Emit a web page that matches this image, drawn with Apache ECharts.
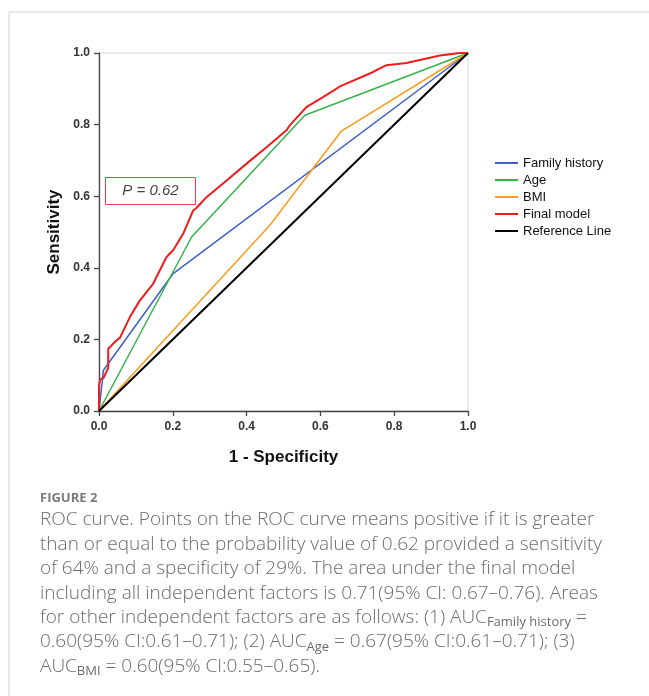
<!DOCTYPE html>
<html>
<head>
<meta charset="utf-8">
<script src="https://cdn.jsdelivr.net/npm/echarts@6/dist/echarts.min.js"></script>
<style>
html,body{margin:0;padding:0;background:#fff;}
#chart{width:649px;height:696px;}
</style>
</head>
<body>
<div id="chart"></div>
<script>
// ---- data ----
const seriesNames = ['Family history', 'Age', 'BMI', 'Final model', 'Reference Line'];
const familyHistory = [[0,0],[0.012,0.114],[0.201,0.384],[1,1]];
const age = [[0,0],[0.251,0.486],[0.558,0.826],[1,1]];
const bmi = [[0,0],[0.463,0.519],[0.657,0.782],[1,1]];
const finalModel = [[0,0],[0,0.07],[0.003,0.088],[0.012,0.092],[0.025,0.12],[0.025,0.174],[0.045,0.195],
  [0.057,0.205],[0.084,0.263],[0.111,0.309],[0.147,0.356],[0.183,0.43],[0.192,0.44],[0.201,0.449],
  [0.228,0.495],[0.255,0.56],[0.264,0.567],[0.292,0.598],[0.346,0.644],[0.4,0.691],[0.454,0.737],
  [0.508,0.784],[0.517,0.798],[0.562,0.849],[0.607,0.877],[0.643,0.9],[0.653,0.907],[0.743,0.947],
  [0.779,0.966],[0.833,0.972],[0.924,0.993],[0.978,1.0],[1,1]];
const referenceLine = [[0,0],[1,1]];
const tickValues = [0, 0.2, 0.4, 0.6, 0.8, 1.0];
const cutoffLabel = 'P = 0.62';
const figureLabel = 'FIGURE 2';
const captionLines = [
  'ROC curve. Points on the ROC curve means positive if it is greater',
  'than or equal to the probability value of 0.62 provided a sensitivity',
  'of 64% and a specificity of 29%. The area under the final model',
  'including all independent factors is 0.71(95% CI: 0.67\u20130.76). Areas',
  'for other independent factors are as follows: (1) AUC{sub|Family history} =',
  '0.60(95% CI:0.61\u20130.71); (2) AUC{sub|Age} = 0.67(95% CI:0.61\u20130.71); (3)',
  'AUC{sub|BMI} = 0.60(95% CI:0.55\u20130.65).'
];

// ---- styles ----
const colors = ['#3f5fc8', '#35b34a', '#ff9a1a', '#ee1c1c', '#000000'];
const widths = [1.5, 1.5, 1.5, 2, 2];
const datasets = [familyHistory, age, bmi, finalModel, referenceLine];

const chart = echarts.init(document.getElementById('chart'));
const captionTop = 520, captionStep = 24.4;
const graphics = [
  {type:'line', shape:{x1:9, y1:12, x2:9, y2:696}, style:{stroke:'#cfcfcf', lineWidth:1}, silent:true},
  {type:'line', shape:{x1:9, y1:12, x2:649, y2:12}, style:{stroke:'#cfcfcf', lineWidth:1}, silent:true},
  {type:'rect', shape:{x:105.5, y:177.5, width:90, height:27}, style:{fill:'#fff', stroke:'#e8424a', lineWidth:1}, z:100},
  {type:'text', x:150.5, y:191, z:101, style:{text:cutoffLabel, fontSize:15, fontStyle:'italic', fontFamily:'Liberation Sans, Arial', fill:'#444', align:'center', verticalAlign:'middle'}},
  {type:'text', x:40, y:498, style:{text:figureLabel, fontSize:13, fontWeight:'bold', fontFamily:'Open Sans', fill:'#7a7a7a', align:'left', verticalAlign:'middle'}}
];
captionLines.forEach((t, i) => {
  graphics.push({type:'text', x:40, y:captionTop + i*captionStep, style:{
    text:t, fontSize:19, fontFamily:'Open Sans', fontWeight:300, fill:'#6b6b6b', align:'left', verticalAlign:'middle',
    rich:{sub:{fontSize:13, fontFamily:'Open Sans', fill:'#6b6b6b', padding:[10,0,0,0]}}
  }});
});

chart.setOption({
  animation:false,
  backgroundColor:'#fff',
  grid:{left:99, right:181, top:53, bottom:285, show:true, borderColor:'#d6d6d6', borderWidth:1},
  legend:{
    orient:'vertical', left:490, top:151, itemWidth:23, itemHeight:2, itemGap:3, icon:'rect',
    data:seriesNames,
    textStyle:{fontSize:13, fontFamily:'Liberation Sans, Arial', color:'#111', lineHeight:14, padding:[0,0,0,0]}
  },
  xAxis:{
    type:'value', min:0, max:1, interval:0.2,
    name:'1 - Specificity', nameLocation:'middle', nameGap:38,
    nameTextStyle:{fontSize:17, fontWeight:'bold', fontFamily:'Liberation Sans, Arial', color:'#111'},
    axisLine:{show:true, lineStyle:{color:'#444', width:1.3}},
    axisTick:{show:true, length:5, lineStyle:{color:'#444', width:1.3}},
    axisLabel:{fontSize:12, fontWeight:'bold', fontFamily:'Liberation Sans, Arial', color:'#333', margin:10,
      formatter:v => v.toFixed(1)},
    splitLine:{show:false}
  },
  yAxis:{
    type:'value', min:0, max:1, interval:0.2,
    name:'Sensitivity', nameLocation:'middle', nameGap:25,
    nameTextStyle:{fontSize:17, fontWeight:'bold', fontFamily:'Liberation Sans, Arial', color:'#111'},
    axisLine:{show:true, lineStyle:{color:'#444', width:1.3}},
    axisTick:{show:true, length:5, lineStyle:{color:'#444', width:1.3}},
    axisLabel:{fontSize:12, fontWeight:'bold', fontFamily:'Liberation Sans, Arial', color:'#333', margin:9,
      formatter:v => v.toFixed(1)},
    splitLine:{show:false}
  },
  series: seriesNames.map((n, i) => ({
    name:n, type:'line', data:datasets[i], showSymbol:false, symbol:'none',
    color:colors[i], lineStyle:{color:colors[i], width:widths[i]}, z:2+i
  })),
  graphic:graphics
});
</script>
</body>
</html>
